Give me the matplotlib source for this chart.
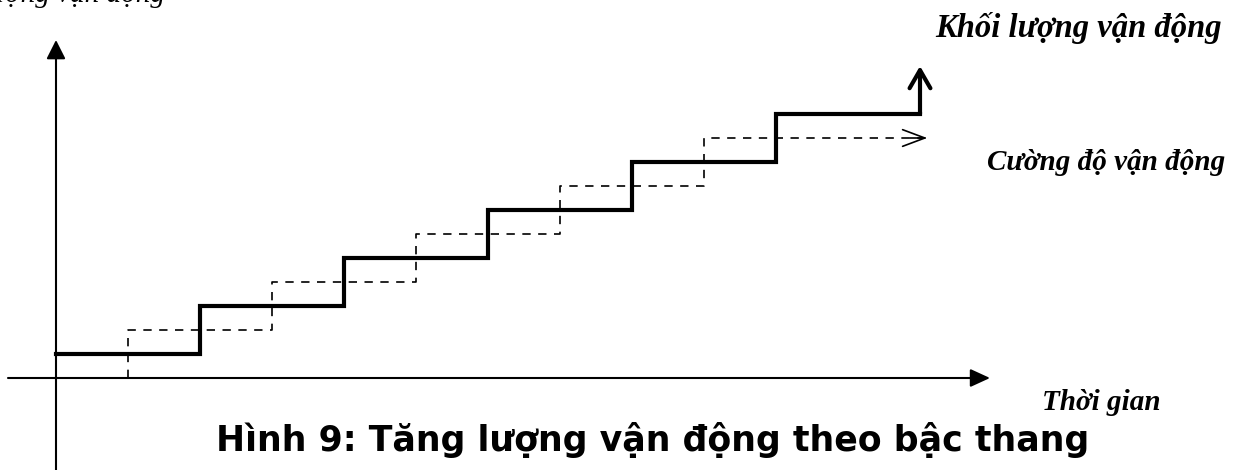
import matplotlib.pyplot as plt

# step chart: solid = khoi luong (volume), dashed = cuong do (intensity)
solid_t = [0, 1, 2, 3, 4, 5, 6]
solid_level = [0.5, 1.5, 2.5, 3.5, 4.5, 5.5, 5.5]
solid_arrow_top = 6.5

dashed_t = [0.5, 0.5, 1.5, 2.5, 3.5, 4.5, 6.05]
dashed_level = [0, 1, 2, 3, 4, 5, 5]

label_top_left = "Lượng vận động"
label_volume = "Khối lượng vận động"
label_intensity = "Cường độ vận động"
label_time = "Thời gian"
title = "Hình 9: Tăng lượng vận động theo bậc thang"

fig = plt.figure(figsize=(12.43, 4.70), dpi=100)
ax = fig.add_axes([0, 0, 1, 1])
ax.set_xlim(-56 / 144, (1243 - 56) / 144)
ax.set_ylim(-92 / 48, 378 / 48)
ax.axis("off")

# axes with arrows
ax.annotate("", xy=(934 / 144, 0), xytext=(-48 / 144, 0),
            arrowprops=dict(arrowstyle="-|>,head_length=1.2,head_width=0.55",
                            lw=1.5, color="black", shrinkA=0, shrinkB=0))
ax.annotate("", xy=(0, 338 / 48), xytext=(0, -92 / 48),
            arrowprops=dict(arrowstyle="-|>,head_length=1.15,head_width=0.58",
                            lw=1.5, color="black", shrinkA=0, shrinkB=0))

# solid staircase
ax.step(solid_t, solid_level, where="post", color="black", lw=3,
        solid_joinstyle="miter")
ax.annotate("", xy=(solid_t[-1], solid_arrow_top), xytext=(solid_t[-1], solid_level[-1]),
            arrowprops=dict(arrowstyle="->,head_length=1.3,head_width=0.75",
                            lw=3, color="black", shrinkA=0, shrinkB=0))

# dashed staircase
ax.step(dashed_t, dashed_level, where="post", color="black", lw=1.2,
        dashes=(5, 4.5))
ax.annotate("", xy=(dashed_t[-1], dashed_level[-1]),
            xytext=(dashed_t[-1] - 0.12, dashed_level[-1]),
            arrowprops=dict(arrowstyle="->,head_length=1.6,head_width=0.6",
                            lw=1.2, color="black", shrinkA=0, shrinkB=0))

serif = ["Liberation Serif", "DejaVu Serif"]
ax.text(0.757, 7.84, label_top_left, ha="right", va="baseline",
        fontsize=21, style="italic", family=serif)
ax.text(7.10, 7.29, label_volume, ha="center", va="center",
        fontsize=23.5, style="italic", weight="bold", family=serif)
ax.text(7.29, 4.48, label_intensity, ha="center", va="center",
        fontsize=21, style="italic", weight="bold", family=serif)
ax.text(7.26, -0.5, label_time, ha="center", va="center",
        fontsize=21, style="italic", weight="bold", family=serif)
ax.text(4.14, -1.29, title, ha="center", va="center",
        fontsize=25, weight="bold", family="DejaVu Sans")

fig.savefig("out.png", dpi=100)
